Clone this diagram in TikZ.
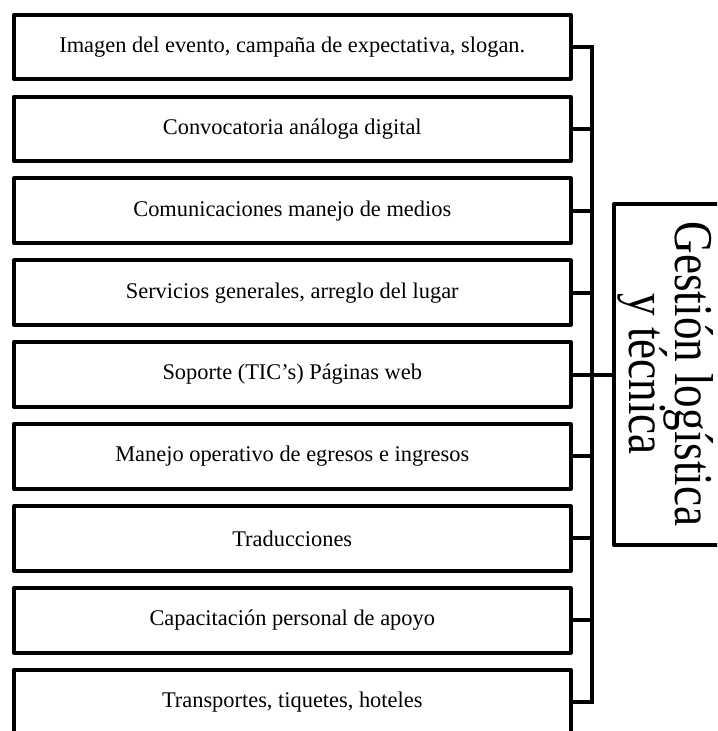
\documentclass[tikz,border=0pt]{standalone}
\usepackage{fontspec}
\setmainfont{Liberation Serif}
\begin{document}
\begin{tikzpicture}[x=0.75pt, y=-0.75pt,
  item/.style={draw, line width=3pt, line join=round, outer sep=0pt,
    minimum width=417.4pt, minimum height=48.4pt, inner sep=0pt,
    font=\fontsize{16.8}{20}\selectfont},
  link/.style={line width=3pt, line join=miter},
  headbox/.style={draw, line width=3pt, line join=round, outer sep=0pt,
    inner sep=0pt, minimum width=109.5pt, minimum height=256.1pt, anchor=west},
  headtext/.style={rotate=-90, xscale=0.825, align=center, inner sep=0pt,
    font={\fontsize{41}{34.5}\selectfont\lineskiplimit=-30pt}}]
\clip (0,0) rectangle (717,731);
% task boxes
\foreach [count=\i] \t in {%
  {Imagen del evento, campaña de expectativa, slogan.},
  {Convocatoria análoga digital},
  {Comunicaciones manejo de medios},
  {Servicios generales, arreglo del lugar},
  {Soporte (TIC's) Páginas web},
  {Manejo operativo de egresos e ingresos},
  {Traducciones},
  {Capacitación personal de apoyo},
  {Transportes, tiquetes, hoteles}}
  \node[item] (b\i) at (292.25, {46.95+81.9*(\i-1)}) {\t};
% main box on the right
\node[headbox] (gest) at (614, 374.75) {};
\node[headtext] (gestlabel) at (666, 374) {Gestión logística\\y técnica};
% spine and branches
\coordinate (top) at (591.7, 46.95);
\draw[link] (b1.east) -- (b1.east -| top) -- (b9.east -| top) -- (b9.east);
\foreach \i in {2,...,8}
  \draw[link] (b\i.east) -- (b\i.east -| top);
\draw[link] (b5.east -| top) -- (b5.east -| gest.west);
\end{tikzpicture}
\end{document}
